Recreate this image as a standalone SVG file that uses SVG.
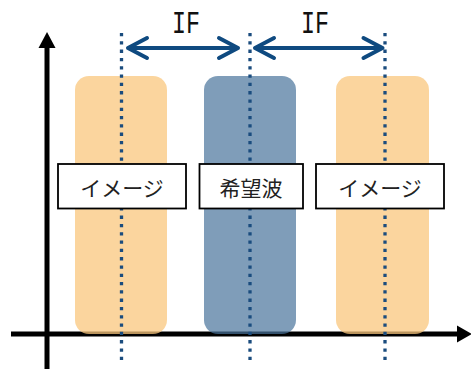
<svg xmlns="http://www.w3.org/2000/svg" width="471" height="369" viewBox="0 0 471 369">
<style>
.band-o{fill:#FAC77E;opacity:0.75}
.band-b{fill:#48739B;opacity:0.7}
.axis{stroke:#000;stroke-width:5;fill:none}
.dot{stroke:#1A4C7E;stroke-width:3.3;stroke-dasharray:3.3 5;fill:none}
.arr{stroke:#0F4A80;stroke-width:4;fill:none;stroke-linecap:round;stroke-linejoin:round}
.box{fill:#fff;stroke:#000;stroke-width:1.8}
.lbl{font-family:"Noto Sans CJK JP","Noto Sans",sans-serif;font-size:21px;fill:#222;text-anchor:middle}
.if{font-family:"Liberation Mono","DejaVu Sans Mono",monospace;font-size:32px;fill:#111;text-anchor:middle}
</style>
<g id="axes">
<line class="axis" x1="47" y1="46" x2="47" y2="369"/>
<polygon points="47,32 38.5,48 55.5,48" fill="#000"/>
<line class="axis" x1="11" y1="334" x2="460" y2="334"/>
<polygon points="472,334 457,325.5 457,342.5" fill="#000"/>
</g>
<g id="band-image-left"><rect class="band-o" x="75" y="76" width="92" height="258" rx="14"/></g>
<g id="band-desired"><rect class="band-b" x="204" y="76" width="92" height="258" rx="14"/></g>
<g id="band-image-right"><rect class="band-o" x="336" y="76" width="93" height="258" rx="14"/></g>
<g id="connectors">
<line class="dot" x1="121.5" y1="33" x2="121.5" y2="362"/>
<line class="dot" x1="250" y1="33" x2="250" y2="362"/>
<line class="dot" x1="385" y1="33" x2="385" y2="362"/>
<path class="arr" d="M128,48 H238 M147,38 L128,48 L147,58 M219,38 L238,48 L219,58"/>
<path class="arr" d="M255,48 H382.5 M274,38 L255,48 L274,58 M363.5,38 L382.5,48 L363.5,58"/>
</g>
<g id="if-left"><text class="if" x="186" y="33" textLength="28" lengthAdjust="spacingAndGlyphs">IF</text></g>
<g id="if-right"><text class="if" x="315" y="33" textLength="28" lengthAdjust="spacingAndGlyphs">IF</text></g>
<g id="label-image-left">
<rect class="box" x="58" y="164" width="128" height="44.5"/>
<text class="lbl" x="122" y="196">イメージ</text>
</g>
<g id="label-desired">
<rect class="box" x="199.5" y="164" width="103.5" height="44.5"/>
<text class="lbl" x="251" y="196">希望波</text>
</g>
<g id="label-image-right">
<rect class="box" x="316" y="164" width="128" height="44.5"/>
<text class="lbl" x="380" y="196">イメージ</text>
</g>
</svg>
